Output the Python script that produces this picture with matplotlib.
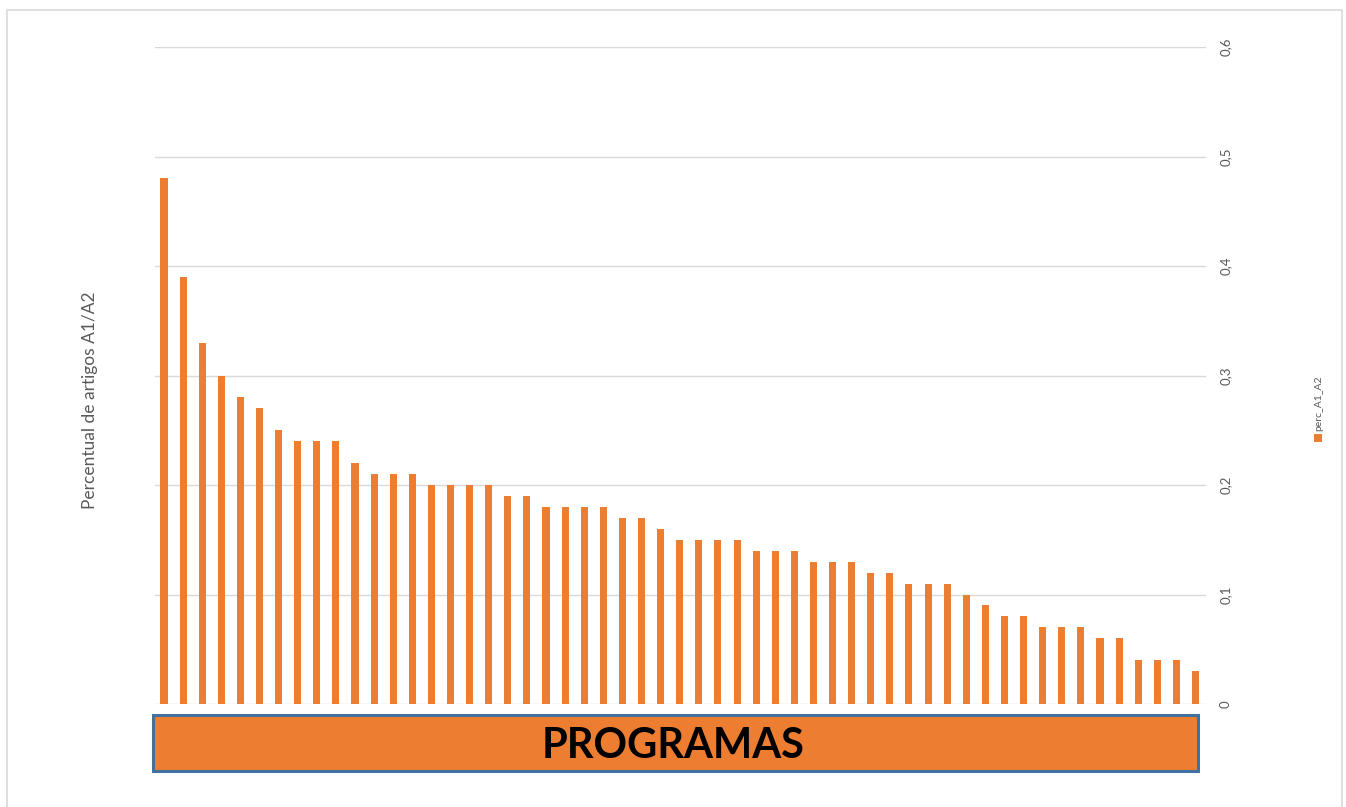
import matplotlib
matplotlib.use("Agg")
import matplotlib.pyplot as plt
from matplotlib.patches import Rectangle

# Share of A1/A2 articles per graduate programme, sorted descending
perc_A1_A2 = [
    0.48, 0.39, 0.33, 0.30, 0.28, 0.27, 0.25, 0.24, 0.24, 0.24,
    0.22, 0.21, 0.21, 0.21, 0.20, 0.20, 0.20, 0.20, 0.19, 0.19,
    0.18, 0.18, 0.18, 0.18, 0.17, 0.17, 0.16, 0.15, 0.15, 0.15,
    0.15, 0.14, 0.14, 0.14, 0.13, 0.13, 0.13, 0.12, 0.12, 0.11,
    0.11, 0.11, 0.10, 0.09, 0.08, 0.08, 0.07, 0.07, 0.07, 0.06,
    0.06, 0.04, 0.04, 0.04, 0.03,
]
y_ticks = [0, 0.1, 0.2, 0.3, 0.4, 0.5, 0.6]
y_tick_labels = ["0", "0,1", "0,2", "0,3", "0,4", "0,5", "0,6"]
series_name = "perc_A1_A2"
y_title = "Percentual de artigos A1/A2"
x_title = "PROGRAMAS"

ORANGE = "#ED7D31"
BLUE = "#41719C"
GRID = "#D9D9D9"
TEXT = "#595959"
FONT = "Lato"

W, H = 1346, 807
fig = plt.figure(figsize=(W / 100, H / 100), dpi=100)

# outer chart border
fig.patches.append(Rectangle((7 / W, -0.01), (1342 - 7) / W, 1 - 10 / H + 0.01,
                             transform=fig.transFigure, fill=False,
                             edgecolor="#D9D9D9", linewidth=1.2))

ax = fig.add_axes([155 / W, 1 - 704 / H, (1206 - 155) / W, (704 - 47) / H])
x = list(range(len(perc_A1_A2)))
ax.bar(x, perc_A1_A2, width=0.37, color=ORANGE, zorder=3)

ax.set_ylim(0, 0.6)
ax.set_xlim(-0.47, 54.55)
ax.set_yticks(y_ticks)
ax.set_yticklabels(y_tick_labels, rotation=90, va="center", fontsize=9.5,
                   color=TEXT, family=FONT)
ax.yaxis.tick_right()
ax.tick_params(axis="y", length=0, pad=10)
ax.set_xticks([])
ax.grid(axis="y", color=GRID, linewidth=1, zorder=0)
for s in ax.spines.values():
    s.set_visible(False)

fig.text(90 / W, 1 - 400 / H, y_title, rotation=90, ha="center", va="center",
         fontsize=12.5, color=TEXT, family=FONT)

# legend entry
fig.patches.append(Rectangle((1314 / W, 1 - 442 / H), 8 / W, 8 / H,
                             transform=fig.transFigure, facecolor=ORANGE,
                             edgecolor="none"))
fig.text(1319 / W, 1 - 431 / H, series_name, rotation=90, ha="center",
         va="bottom", fontsize=7.5, color=TEXT, family=FONT)

# category axis title box
fig.patches.append(Rectangle((153 / W, 1 - 771 / H), (1198 - 153) / W, (771 - 715) / H,
                             transform=fig.transFigure, facecolor=ORANGE,
                             edgecolor=BLUE, linewidth=2.2, zorder=5))
fig.text(673 / W, 1 - 746 / H, x_title, ha="center", va="center",
         fontsize=30, fontweight="bold", color="black", family=FONT, zorder=6)

fig.savefig("out.png", dpi=100, facecolor="white")
